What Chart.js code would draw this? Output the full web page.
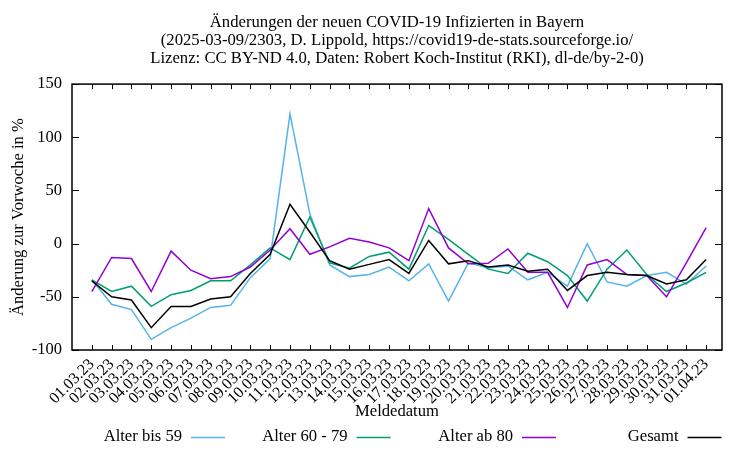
<!DOCTYPE html>
<html>
<head>
<meta charset="utf-8">
<script src="https://cdn.jsdelivr.net/npm/chart.js@4/dist/chart.umd.min.js"></script>
<style>
  html, body { margin: 0; padding: 0; background: #fff; }
  #wrap { width: 750px; height: 450px; }
</style>
</head>
<body>
<div id="wrap"><canvas id="chart" width="750" height="450"></canvas></div>
<script>
const dates = ['01.03.23', '02.03.23', '03.03.23', '04.03.23', '05.03.23', '06.03.23', '07.03.23', '08.03.23',
  '09.03.23', '10.03.23', '11.03.23', '12.03.23', '13.03.23', '14.03.23', '15.03.23', '16.03.23',
  '17.03.23', '18.03.23', '19.03.23', '20.03.23', '21.03.23', '22.03.23', '23.03.23', '24.03.23',
  '25.03.23', '26.03.23', '27.03.23', '28.03.23', '29.03.23', '30.03.23', '31.03.23', '01.04.23'];

const alterBis59 = [-34, -57, -62, -90, -79, -70, -60, -58, -32, -14, 122, 28, -20, -31, -29, -22,
  -35, -19, -54, -18, -23, -21, -34, -27, -40, 0, -36, -40, -30, -27, -38, -21];
const alter60bis79 = [-34, -45, -40, -59, -48, -44, -35, -35, -20, -4, -15, 25, -18, -23, -12, -8,
  -24, 17, 4, -10, -24, -28, -9, -17, -30, -54, -24, -6, -29, -45, -37, -27];
const alterAb80 = [-45, -13, -14, -45, -7, -25, -33, -31, -22, -6, 14, -10, -3, 5, 1.5, -4,
  -16, 33, -4, -19, -18.5, -5, -27, -27, -60, -20, -15, -29, -30, -50, -18, 15];
const gesamt = [-35, -50, -53, -79, -59, -59, -52, -50, -28, -10, 37, 11, -16, -24, -19.5, -15,
  -28, 3, -19, -16, -22, -20, -26, -24, -44, -30, -27, -29, -30, -38, -34, -15];

const yTicks = [-100, -50, 0, 50, 100, 150];

const FONT = "'Liberation Serif', 'Times New Roman', serif";
Chart.defaults.font.family = FONT;
Chart.defaults.font.size = 16;
Chart.defaults.color = '#000';

const toPoints = arr => arr.map((v, i) => ({ x: i, y: v }));

// gnuplot-like frame with inward ticks on all four sides
const framePlugin = {
  id: 'frame',
  afterDatasetsDraw(chart) {
    const { ctx, chartArea: a, scales: { x, y } } = chart;
    ctx.save();
    ctx.strokeStyle = '#000';
    ctx.lineWidth = 1;
    ctx.beginPath();
    y.ticks.forEach((t, i) => {
      const py = Math.round(y.getPixelForTick(i)) + 0.5;
      ctx.moveTo(a.left, py); ctx.lineTo(a.left + 7, py);
      ctx.moveTo(a.right, py); ctx.lineTo(a.right - 7, py);
    });
    x.ticks.forEach((t, i) => {
      const px = Math.round(x.getPixelForTick(i)) + 0.5;
      ctx.moveTo(px, a.bottom); ctx.lineTo(px, a.bottom - 5);
      ctx.moveTo(px, a.top); ctx.lineTo(px, a.top + 5);
    });
    ctx.stroke();
    ctx.lineWidth = 1.5;
    ctx.strokeRect(a.left, a.top, a.right - a.left, a.bottom - a.top);
    ctx.restore();
  }
};

// key at the bottom: text first, then line sample
const keyPlugin = {
  id: 'key',
  afterDraw(chart) {
    const ctx = chart.ctx;
    ctx.save();
    ctx.font = '16.6px ' + FONT;
    ctx.textBaseline = 'middle';
    ctx.textAlign = 'right';
    const yPos = 437;
    chart.data.datasets.forEach((ds, i) => {
      const end = 225 + i * 165.5;
      ctx.fillStyle = '#000';
      ctx.fillText(ds.label, end - 43, yPos);
      ctx.strokeStyle = ds.borderColor;
      ctx.lineWidth = 1.5;
      ctx.beginPath();
      ctx.moveTo(end - 34, yPos + 0.5);
      ctx.lineTo(end, yPos + 0.5);
      ctx.stroke();
    });
    ctx.restore();
  }
};

new Chart(document.getElementById('chart'), {
  type: 'line',
  data: {
    datasets: [
      { label: 'Alter bis 59', data: toPoints(alterBis59), borderColor: '#56b4e9', order: 3 },
      { label: 'Alter 60 - 79', data: toPoints(alter60bis79), borderColor: '#009e73', order: 2 },
      { label: 'Alter ab 80', data: toPoints(alterAb80), borderColor: '#9400d3', order: 1 },
      { label: 'Gesamt', data: toPoints(gesamt), borderColor: '#000000', order: 0 }
    ]
  },
  options: {
    responsive: false,
    animation: false,
    layout: { padding: { left: 0, right: 28, top: 0, bottom: 28 } },
    elements: {
      line: { borderWidth: 1.5, tension: 0, fill: false },
      point: { radius: 0 }
    },
    plugins: {
      legend: { display: false },
      tooltip: { enabled: false },
      title: {
        display: true,
        fullSize: false,
        text: [
          'Änderungen der neuen COVID-19 Infizierten in Bayern',
          '(2025-03-09/2303, D. Lippold, https://covid19-de-stats.sourceforge.io/',
          'Lizenz: CC BY-ND 4.0, Daten: Robert Koch-Institut (RKI), dl-de/by-2-0)'
        ],
        font: { size: 16.7, weight: 'normal', lineHeight: 1.08 },
        color: '#000',
        padding: { top: 14, bottom: 16 }
      }
    },
    scales: {
      x: {
        type: 'linear',
        min: -1,
        max: 31.8,
        afterBuildTicks: s => { s.ticks = dates.map((d, i) => ({ value: i })); },
        afterFit: s => { s.height = 72; },
        grid: { display: false, drawTicks: false },
        border: { display: false },
        ticks: {
          autoSkip: false,
          minRotation: 45,
          maxRotation: 45,
          padding: 5,
          callback: v => dates[v] ?? ''
        },
        title: { display: true, text: 'Meldedatum', font: { size: 16.6 }, padding: { top: 0, bottom: 0 } }
      },
      y: {
        min: -100,
        max: 150,
        afterBuildTicks: s => { s.ticks = yTicks.map(v => ({ value: v })); },
        afterFit: s => { s.width = 72; },
        grid: { display: false, drawTicks: false },
        border: { display: false },
        ticks: { padding: 10, font: { size: 16.5 } },
        title: { display: true, text: 'Änderung zur Vorwoche in %', font: { size: 16.6 }, padding: { top: 9, bottom: 0 } }
      }
    }
  },
  plugins: [framePlugin, keyPlugin]
});
</script>
</body>
</html>
